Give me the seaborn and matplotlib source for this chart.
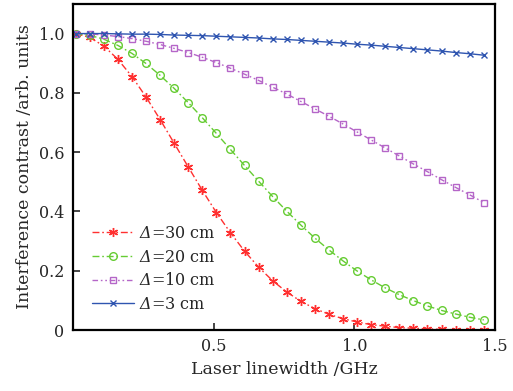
import matplotlib
matplotlib.use("Agg")
import matplotlib.pyplot as plt
import numpy as np
import pandas as pd
import seaborn as sns

# laser linewidth (GHz) and interference contrast
linewidth_ghz = [0.01, 0.06, 0.11, 0.16, 0.21, 0.26, 0.31, 0.36, 0.41, 0.46,
                 0.51, 0.56, 0.61, 0.66, 0.71, 0.76, 0.81, 0.86, 0.91, 0.96,
                 1.01, 1.06, 1.11, 1.16, 1.21, 1.26, 1.31, 1.36, 1.41, 1.46]

contrast_30cm = [1.000, 0.987, 0.958, 0.913, 0.855, 0.786, 0.710, 0.630, 0.550, 0.471,
                 0.396, 0.328, 0.266, 0.212, 0.166, 0.128, 0.097, 0.072, 0.053, 0.038,
                 0.027, 0.018, 0.013, 0.008, 0.006, 0.004, 0.002, 0.001, 0.001, 0.001]

contrast_20cm = [1.000, 0.994, 0.981, 0.960, 0.933, 0.899, 0.859, 0.815, 0.767, 0.716,
                 0.663, 0.609, 0.555, 0.502, 0.450, 0.401, 0.354, 0.310, 0.270, 0.233,
                 0.199, 0.169, 0.142, 0.119, 0.099, 0.081, 0.066, 0.054, 0.043, 0.034]

contrast_10cm = [1.000, 0.999, 0.995, 0.990, 0.983, 0.974, 0.963, 0.950, 0.936, 0.920,
                 0.902, 0.883, 0.863, 0.842, 0.819, 0.796, 0.771, 0.746, 0.721, 0.695,
                 0.668, 0.641, 0.614, 0.587, 0.560, 0.534, 0.507, 0.481, 0.456, 0.430]

contrast_3cm = [1.000, 1.000, 1.000, 0.999, 0.998, 0.998, 0.997, 0.995, 0.994, 0.993,
                0.991, 0.989, 0.987, 0.985, 0.982, 0.980, 0.977, 0.974, 0.971, 0.968,
                0.964, 0.961, 0.957, 0.953, 0.949, 0.945, 0.941, 0.936, 0.932, 0.927]

series_labels = [r"$\Delta$=30 cm", r"$\Delta$=20 cm",
                 r"$\Delta$=10 cm", r"$\Delta$=3 cm"]

sns.set_style("ticks")
plt.rcParams["font.family"] = ["DejaVu Serif"]
# only the Delta goes through mathtext, and it should come out slanted
plt.rcParams["mathtext.fontset"] = "custom"
plt.rcParams["mathtext.rm"] = "DejaVu Serif:italic"
plt.rcParams["mathtext.it"] = "DejaVu Serif:italic"
plt.rcParams["font.size"] = 11.5

fig = plt.figure(figsize=(5.13, 3.91), dpi=100)
ax = fig.add_axes([0.142, 0.156, 0.823, 0.834])

# (values, color, marker, size, hollow?, linestyle)
styles = [
    (contrast_30cm, "#ff3030", (6, 2, 0), 6.5, False, (0, (5, 2, 1.2, 2))),
    (contrast_20cm, "#66cc33", "o", 5.5, True, (0, (5, 2, 1.2, 2))),
    (contrast_10cm, "#b566c8", "s", 4.5, True, (0, (4, 2, 1.2, 2, 1.2, 2))),
    (contrast_3cm, "#2f55b0", "x", 5, False, "-"),
]

for (vals, col, mk, ms, hollow, ls), lab in zip(styles, series_labels):
    df = pd.DataFrame({"nu": linewidth_ghz, "V": vals})
    sns.lineplot(data=df, x="nu", y="V", ax=ax, color=col, marker=mk,
                 markersize=ms, markerfacecolor="none" if hollow else col,
                 markeredgecolor=col, markeredgewidth=1.0, linewidth=1.0,
                 linestyle=ls, label=lab)

ax.set_xlim(0, 1.5)
ax.set_ylim(0, 1.1)
ax.set_xticks([0.5, 1.0, 1.5])
ax.set_yticks([0, 0.2, 0.4, 0.6, 0.8, 1.0])
ax.set_yticklabels(["0", "0.2", "0.4", "0.6", "0.8", "1.0"])
ax.tick_params(direction="in", length=5, width=1.2, top=False, right=False,
               labelsize=11.5, pad=6)
for sp in ax.spines.values():
    sp.set_visible(True)
    sp.set_linewidth(1.6)
    sp.set_color("black")

ax.set_xlabel("Laser linewidth /GHz", fontsize=12.5, labelpad=4)
ax.set_ylabel("Interference contrast /arb. units", fontsize=12.5, labelpad=4)

ax.legend(loc="lower left", bbox_to_anchor=(0.02, 0.018), frameon=False,
          handlelength=2.6, handletextpad=0.3, labelspacing=0.42,
          fontsize=11.5, borderaxespad=0.3)

fig.savefig("out.png", dpi=100)
